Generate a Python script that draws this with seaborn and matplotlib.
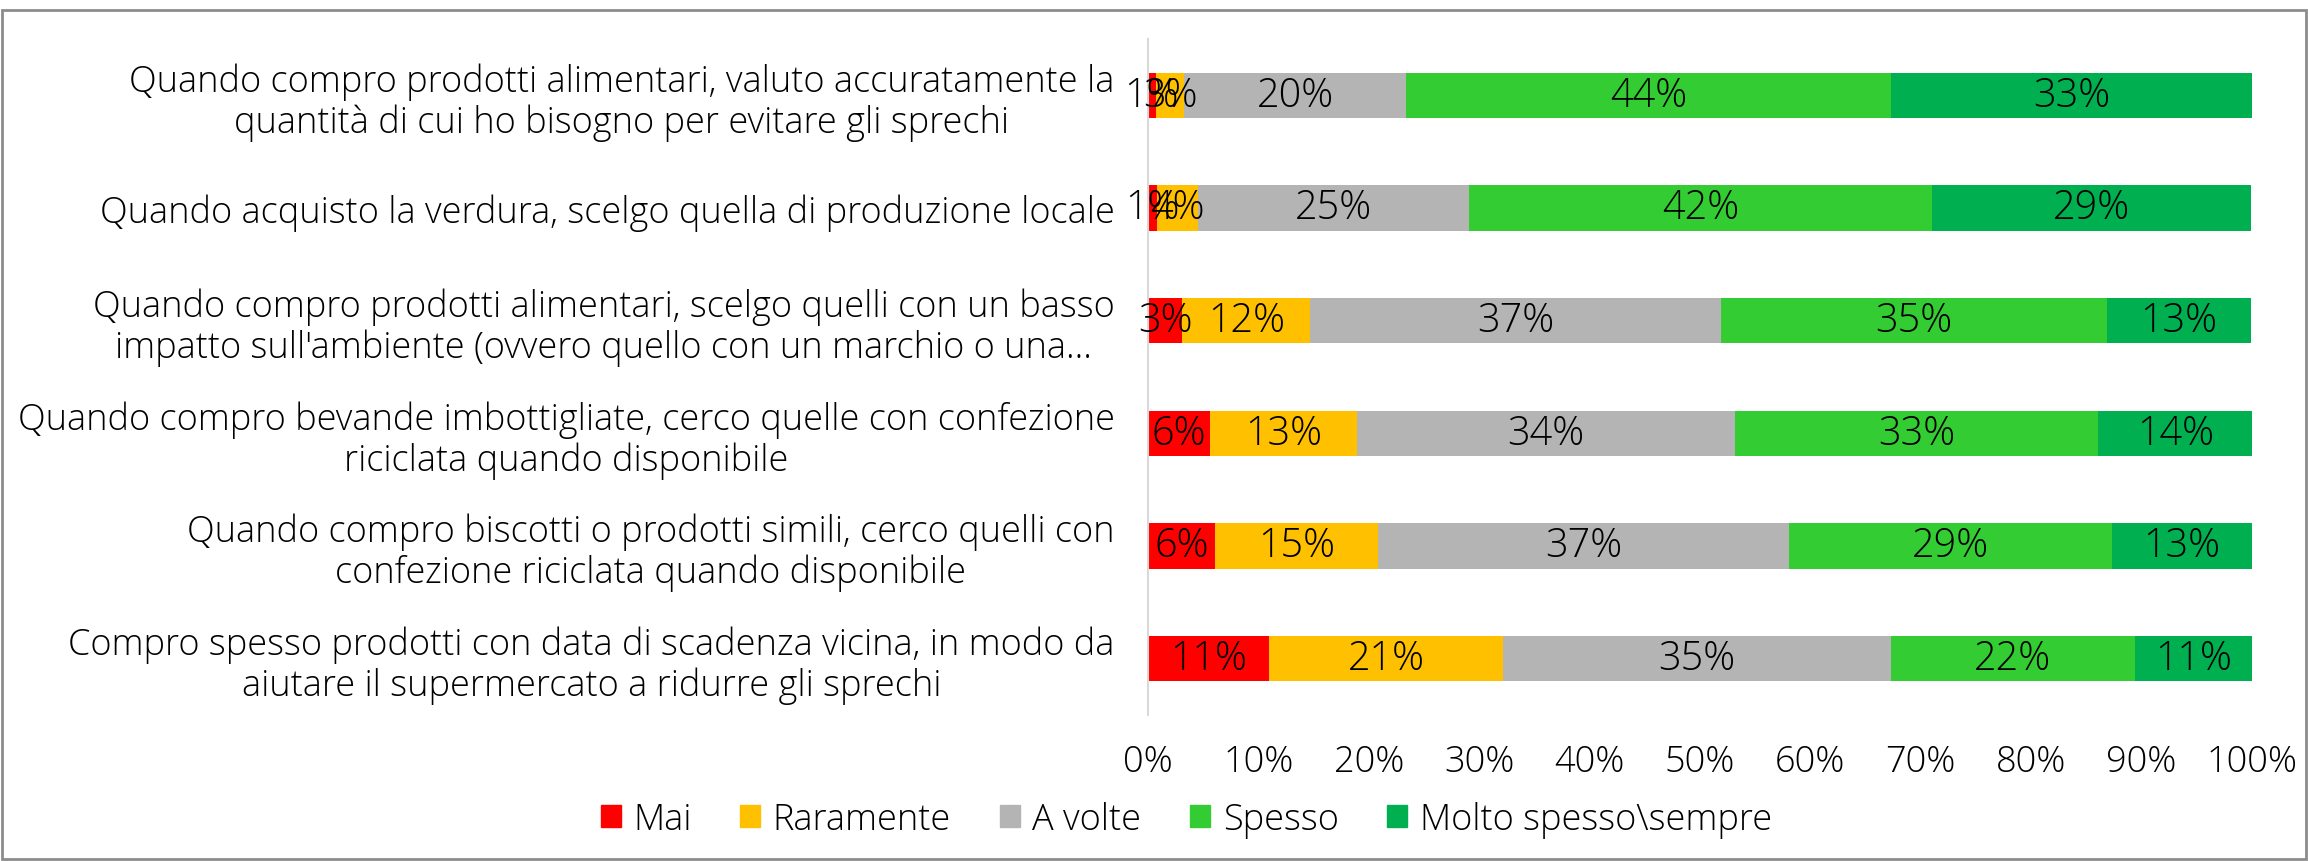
import matplotlib
matplotlib.use("Agg")
import matplotlib.pyplot as plt
import matplotlib.patches as mpatches
import seaborn as sns
import numpy as np
import pandas as pd

categories = [
    "Quando compro prodotti alimentari, valuto accuratamente la\nquantità di cui ho bisogno per evitare gli sprechi",
    "Quando acquisto la verdura, scelgo quella di produzione locale",
    "Quando compro prodotti alimentari, scelgo quelli con un basso\nimpatto sull'ambiente (ovvero quello con un marchio o una...",
    "Quando compro bevande imbottigliate, cerco quelle con confezione\nriciclata quando disponibile",
    "Quando compro biscotti o prodotti simili, cerco quelli con\nconfezione riciclata quando disponibile",
    "Compro spesso prodotti con data di scadenza vicina, in modo da\naiutare il supermercato a ridurre gli sprechi",
]
series_names = ["Mai", "Raramente", "A volte", "Spesso", "Molto spesso\\sempre"]
mai = [0.7, 0.8, 3.1, 5.6, 6.1, 11.0]
raramente = [2.6, 3.7, 11.6, 13.3, 14.7, 21.2]
a_volte = [20.1, 24.6, 37.2, 34.3, 37.3, 35.1]
spesso = [43.9, 41.9, 35.0, 32.9, 29.2, 22.1]
molto_spesso = [32.7, 28.9, 13.0, 14.0, 12.7, 10.6]
x_ticks = [0, 10, 20, 30, 40, 50, 60, 70, 80, 90, 100]
colors = ["#FF0000", "#FFC000", "#B4B4B4", "#33CC33", "#00B050"]

sns.set_theme(style="white")
plt.rcParams["font.family"] = ["Open Sans", "DejaVu Sans"]
plt.rcParams["font.weight"] = "light"
plt.rcParams["text.color"] = "black"
plt.rcParams["xtick.color"] = "black"
plt.rcParams["ytick.color"] = "black"
plt.rcParams["xtick.labelcolor"] = "black"
plt.rcParams["ytick.labelcolor"] = "black"
FS = 26
FS_BAR = 28.5

values = np.array([mai, raramente, a_volte, spesso, molto_spesso])
cum = np.cumsum(values, axis=0)

fig = plt.figure(figsize=(23.08, 8.62), dpi=100)
ax = fig.add_axes([0.4974, 0.1694, 0.9757 - 0.4974, 0.9536 - 0.1694])

# draw cumulative bars from the total down so the segments appear stacked
for i in reversed(range(len(series_names))):
    df = pd.DataFrame({"cat": categories, "val": cum[i]})
    sns.barplot(data=df, y="cat", x="val", order=categories, orient="h",
                color=colors[i], width=0.4, saturation=1, ax=ax, edgecolor="none")

for i in range(len(series_names)):
    for j in range(len(categories)):
        v = values[i, j]
        ax.text(cum[i, j] - v / 2, j, f"{round(v):.0f}%", ha="center", va="center",
                fontsize=FS_BAR, color="black")

ax.set_xlim(0, 100)
ax.set_ylim(len(categories) - 0.5, -0.5)
ax.set_xticks(x_ticks)
ax.set_xticklabels([f"{t}%" for t in x_ticks], fontsize=FS, color="black")
ax.set_yticks(range(len(categories)))
ax.set_yticklabels(categories, fontsize=FS, multialignment="center", linespacing=1.12,
                   color="black")
ax.tick_params(axis="both", length=0)
ax.tick_params(axis="x", pad=20)
ax.tick_params(axis="y", pad=24)
ax.set_xlabel("")
ax.set_ylabel("")
for s in ["top", "right", "bottom"]:
    ax.spines[s].set_visible(False)
ax.spines["left"].set_color("#D9D9D9")
ax.spines["left"].set_linewidth(1.5)
ax.grid(False)

handles = [mpatches.Patch(color=c, label=n) for c, n in zip(colors, series_names)]
leg = fig.legend(handles=handles, loc="center", bbox_to_anchor=(0.514, 0.048), ncol=5,
                 frameon=False, fontsize=FS, handlelength=0.55, handleheight=0.55,
                 handletextpad=0.35, columnspacing=1.35)
for t in leg.get_texts():
    t.set_color("black")

fig.patches.append(mpatches.Rectangle((0.001, 0.002), 0.998, 0.985, transform=fig.transFigure,
                                      fill=False, edgecolor="#8C8C8C", linewidth=2))

fig.savefig("out.png", dpi=100, facecolor="white")
